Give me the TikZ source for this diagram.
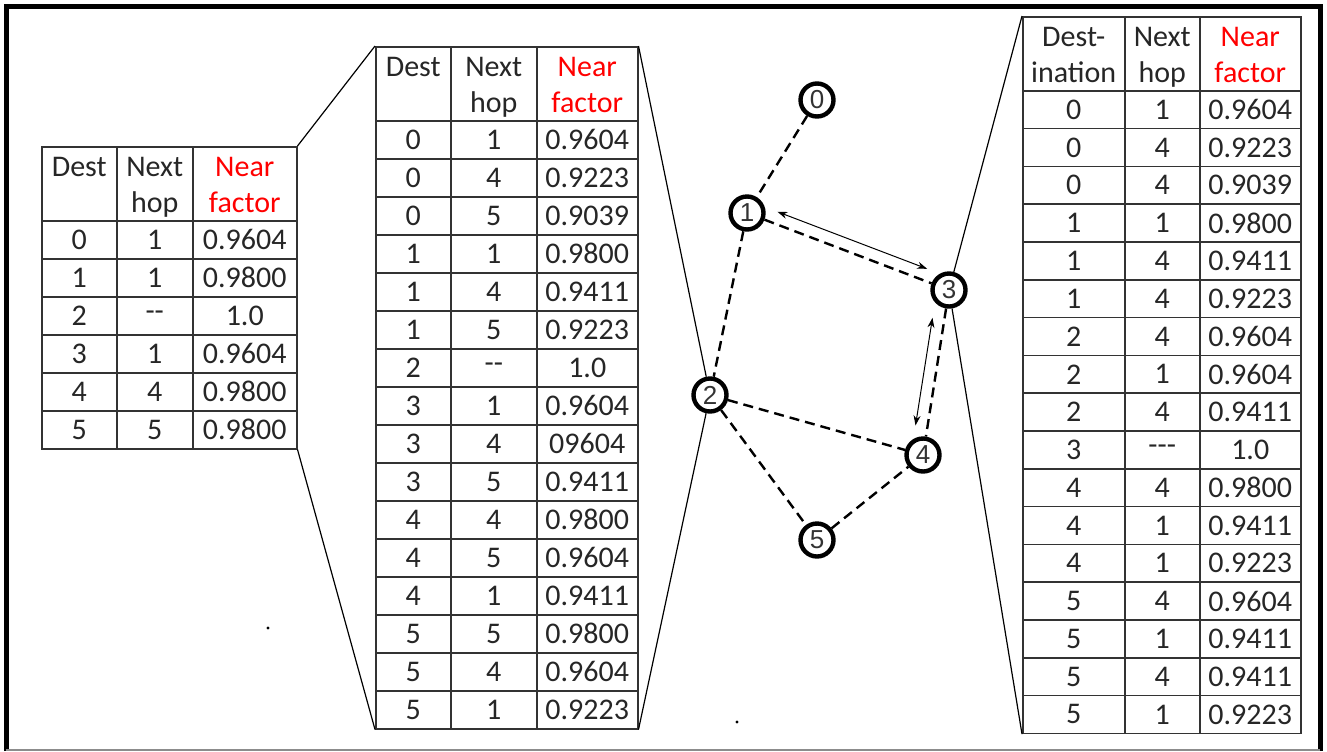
\documentclass[tikz,border=0pt]{standalone}
\usepackage{fontspec}
\setmainfont{Carlito}
\newfontfamily\arialfont{Liberation Sans}
\usetikzlibrary{matrix,calc,arrows.meta}

\newcommand\hd[2]{\raisebox{-2pt}[\height][\depth]{\begin{tabular}{@{}c@{}}#1\\#2\end{tabular}}}

\begin{document}
\begin{tikzpicture}[x=0.5pt,y=-0.5pt]
  \tikzset{rtable/.style={matrix of nodes, anchor=north west, inner sep=0pt, outer sep=0pt,
      column sep=-0.75pt, row sep=-0.75pt,
      nodes={draw=black!80, line width=0.75pt, inner sep=0pt, outer sep=0pt, anchor=center,
        minimum height=19pt, text=black!85, font=\fontsize{15}{18}\selectfont},
      row 1/.style={nodes={minimum height=37pt}}},
    station/.style={circle, draw, line width=2.2pt, minimum size=16.5pt, inner sep=0pt,
      text=black!80, font=\arialfont\fontsize{13}{15}\selectfont},
    link/.style={line width=1.2pt, dash pattern=on 5pt off 3pt},
    twoway/.style={line width=0.5pt, {Stealth[length=5pt,width=3.5pt]}-{Stealth[length=5pt,width=3.5pt]}},
    zoomline/.style={line width=0.6pt}}
  \useasboundingbox (0,0) rectangle (1327,751);
  % frame
  \draw[line width=2.5pt] (6,751) -- (6,6) -- (1320,6) -- (1320,751);
  \draw[black!45, line width=0.75pt] (6,750) -- (1320,750);
  % tables
  \matrix (tabL) [rtable, column 1/.style={nodes={minimum width=37.5pt}},
      column 2/.style={nodes={minimum width=38pt}},
      column 3/.style={nodes={minimum width=52pt}}] at (41,146) {
    \hd{Dest}{\phantom{hop}} & \hd{Next}{hop} & |[text=red]| \hd{Near}{factor} \\
    0 & 1 & 0.9604 \\
    1 & 1 & 0.9800 \\
    2 & -{}- & 1.0 \\
    3 & 1 & 0.9604 \\
    4 & 4 & 0.9800 \\
    5 & 5 & 0.9800 \\
  };
  \matrix (tabM) [rtable, column 1/.style={nodes={minimum width=37.5pt}},
      column 2/.style={nodes={minimum width=43pt}},
      column 3/.style={nodes={minimum width=50.5pt}}] at (375,46) {
    \hd{Dest}{\phantom{hop}} & \hd{Next}{hop} & |[text=red]| \hd{Near}{factor} \\
    0 & 1 & 0.9604 \\
    0 & 4 & 0.9223 \\
    0 & 5 & 0.9039 \\
    1 & 1 & 0.9800 \\
    1 & 4 & 0.9411 \\
    1 & 5 & 0.9223 \\
    2 & -{}- & 1.0 \\
    3 & 1 & 0.9604 \\
    3 & 4 & 09604 \\
    3 & 5 & 0.9411 \\
    4 & 4 & 0.9800 \\
    4 & 5 & 0.9604 \\
    4 & 1 & 0.9411 \\
    5 & 5 & 0.9800 \\
    5 & 4 & 0.9604 \\
    5 & 1 & 0.9223 \\
  };
  \matrix (tabR) [rtable, nodes={minimum height=18.9pt},
      column 1/.style={nodes={minimum width=51pt}},
      column 2/.style={nodes={minimum width=37.5pt}},
      column 3/.style={nodes={minimum width=50.5pt}}] at (1022,16) {
    \hd{Dest-}{ination} & \hd{Next}{hop} & |[text=red]| \hd{Near}{factor} \\
    0 & 1 & 0.9604 \\
    0 & 4 & 0.9223 \\
    0 & 4 & 0.9039 \\
    1 & 1 & 0.9800 \\
    1 & 4 & 0.9411 \\
    1 & 4 & 0.9223 \\
    2 & 4 & 0.9604 \\
    2 & 1 & 0.9604 \\
    2 & 4 & 0.9411 \\
    3 & -{}-{}- & 1.0 \\
    4 & 4 & 0.9800 \\
    4 & 1 & 0.9411 \\
    4 & 1 & 0.9223 \\
    5 & 4 & 0.9604 \\
    5 & 1 & 0.9411 \\
    5 & 4 & 0.9411 \\
    5 & 1 & 0.9223 \\
  };
  % network
  \node[station] (n0) at (817,100) {0};
  \node[station] (n1) at (747,213) {1};
  \node[station] (n2) at (710,395) {2};
  \node[station] (n3) at (949,290) {3};
  \node[station] (n4) at (923,455) {4};
  \node[station] (n5) at (817,540) {5};
  \draw[link] (n0) -- (n1);
  \draw[link] (n1) -- (n2);
  \draw[link] (n1) -- (n3);
  \draw[link] (n3) -- (n4);
  \draw[link] (n2) -- (n4);
  \draw[link] (n2) -- (n5);
  \draw[link] (n5) -- (n4);
  \draw[twoway, shorten <=14pt, shorten >=14pt]
    ($(n1)!6pt!90:(n3)$) -- ($(n3)!6pt!-90:(n1)$);
  \draw[twoway, shorten <=15pt, shorten >=14pt]
    ($(n3)!6pt!-90:(n4)$) -- ($(n4)!6pt!90:(n3)$);
  % zoom lines
  \draw[zoomline] (tabL.north east) -- (tabM.north west);
  \draw[zoomline] (tabL.south east) -- (tabM.south west);
  \draw[zoomline] (tabM.north east) -- (n2);
  \draw[zoomline] (tabM.south east) -- (n2);
  \draw[zoomline] (n3) -- (tabR.north west);
  \draw[zoomline] (n3) -- (tabR.south west);
  % specks
  \fill (268,628) circle (0.8pt);
  \fill (737,722) circle (0.8pt);
\end{tikzpicture}
\end{document}
